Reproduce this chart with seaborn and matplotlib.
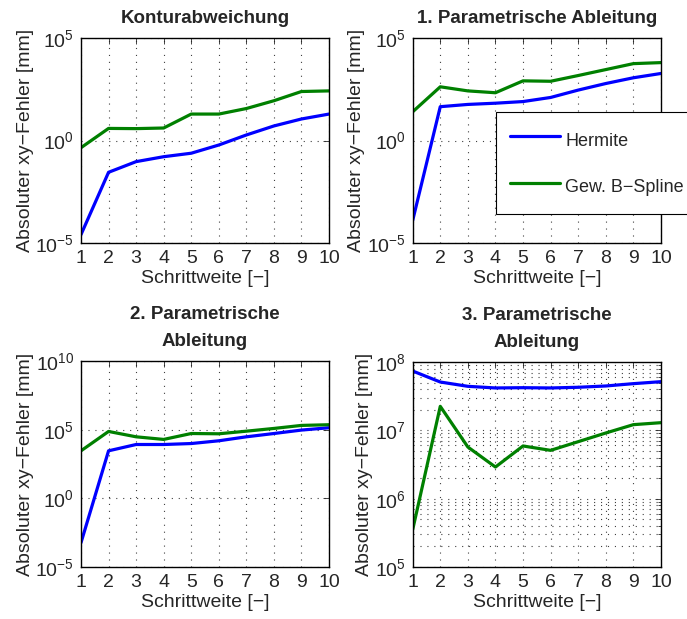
import numpy as np
import pandas as pd
import matplotlib
matplotlib.use("Agg")
import matplotlib.pyplot as plt
import matplotlib.ticker as mticker
from matplotlib.lines import Line2D
import seaborn as sns

# Schrittweite (step width)
schrittweite = [1, 2, 3, 4, 5, 6, 7, 8, 9, 10]

# log10 of absolute xy error [mm] per method and derivative order
kontur_hermite = [-4.59, -1.55, -1.03, -0.79, -0.62, -0.22, 0.27, 0.71, 1.05, 1.29]
kontur_bspline = [-0.35, 0.59, 0.58, 0.61, 1.29, 1.29, 1.56, 1.94, 2.39, 2.42]

abl1_hermite = [-3.90, 1.65, 1.76, 1.82, 1.90, 2.10, 2.46, 2.78, 3.06, 3.27]
abl1_bspline = [1.40, 2.62, 2.42, 2.33, 2.91, 2.89, 3.17, 3.46, 3.75, 3.80]

abl2_hermite = [-3.23, 3.46, 3.92, 3.92, 3.99, 4.19, 4.48, 4.72, 4.97, 5.14]
abl2_bspline = [3.46, 4.87, 4.48, 4.29, 4.72, 4.70, 4.89, 5.09, 5.31, 5.36]

abl3_hermite = [7.868, 7.707, 7.644, 7.62, 7.624, 7.62, 7.63, 7.649, 7.683, 7.712]
abl3_bspline = [5.546, 7.351, 6.756, 6.463, 6.771, 6.707, 6.834, 6.961, 7.083, 7.112]

methods = ["Hermite", "Gew. B\u2212Spline"]
titles = ["Konturabweichung", "1. Parametrische Ableitung",
          "2. Parametrische\nAbleitung", "3. Parametrische\nAbleitung"]
y_exponents = [[-5, 0, 5], [-5, 0, 5], [-5, 0, 5, 10], [5, 6, 7, 8]]

sns.set_style("white")
plt.rcParams["font.family"] = ["Liberation Sans", "DejaVu Sans"]
plt.rcParams["mathtext.fontset"] = "custom"
plt.rcParams["mathtext.rm"] = "Liberation Sans"
plt.rcParams["mathtext.it"] = "Liberation Sans"
plt.rcParams["mathtext.default"] = "rm"
plt.rcParams["lines.scale_dashes"] = False

palette = {methods[0]: (0.0, 0.0, 1.0), methods[1]: (0.0, 0.5, 0.0)}
grid_style = dict(linestyle=(0, (0.8, 4.2)), color="0.25", linewidth=0.8)

fig = plt.figure(figsize=(6.87, 6.19), dpi=100)
positions = [
    [0.1179, 0.6074, 0.3610, 0.3312],
    [0.6007, 0.6074, 0.3614, 0.3312],
    [0.1179, 0.0840, 0.3610, 0.3328],
    [0.6007, 0.0840, 0.3614, 0.3312],
]
series = [
    (kontur_hermite, kontur_bspline),
    (abl1_hermite, abl1_bspline),
    (abl2_hermite, abl2_bspline),
    (abl3_hermite, abl3_bspline),
]

for i, (pos, (h, b)) in enumerate(zip(positions, series)):
    ax = fig.add_axes(pos)
    df = pd.DataFrame({
        "Schrittweite": schrittweite * 2,
        "Fehler": np.power(10.0, np.array(h + b)),
        "Methode": [methods[0]] * len(h) + [methods[1]] * len(b),
    })
    sns.lineplot(data=df, x="Schrittweite", y="Fehler", hue="Methode",
                 palette=palette, linewidth=2.3, ax=ax, legend=False)
    ax.set_yscale("log")
    exps = y_exponents[i]
    ax.set_ylim(10.0 ** exps[0], 10.0 ** exps[-1])
    ax.set_xlim(1, 10)
    ax.set_xticks(schrittweite)
    ax.set_yticks([10.0 ** e for e in exps])
    ax.yaxis.set_major_formatter(mticker.FixedFormatter([r"$10^{%d}$" % e for e in exps]))
    if i == 3:
        ax.yaxis.set_minor_locator(mticker.LogLocator(base=10, subs=np.arange(2, 10)))
        ax.yaxis.set_minor_formatter(mticker.NullFormatter())
        ax.grid(True, which="minor", axis="y", **grid_style)
    else:
        ax.yaxis.set_minor_locator(mticker.NullLocator())
    ax.grid(True, which="major", **grid_style)
    ax.tick_params(axis="both", which="both", direction="in", top=True, right=True,
                   labelsize=14, pad=5, length=4, width=0.6)
    ax.tick_params(axis="both", which="minor", length=2)
    for sp in ax.spines.values():
        sp.set_color("black")
        sp.set_linewidth(1.0)
    ax.set_xlabel("Schrittweite [\u2212]", fontsize=14, labelpad=2)
    ax.set_ylabel("Absoluter xy\u2212Fehler [mm]", fontsize=14, labelpad=1)
    ax.set_title(titles[i], fontsize=13.5, fontweight="bold", pad=11, linespacing=1.75)

    if i == 1:
        handles = [Line2D([], [], color=palette[m], linewidth=2.3) for m in methods]
        leg = ax.legend(handles, methods, loc="upper left",
                        bbox_to_anchor=(0.7215, 0.8191), bbox_transform=fig.transFigure,
                        fontsize=13, frameon=True, fancybox=False, framealpha=1,
                        edgecolor="black", borderpad=0.8, handlelength=2.75,
                        handleheight=1.9, labelspacing=1.1, handletextpad=0.3,
                        borderaxespad=0)
        leg.get_frame().set_linewidth(0.8)

fig.savefig("out.png", dpi=100)
